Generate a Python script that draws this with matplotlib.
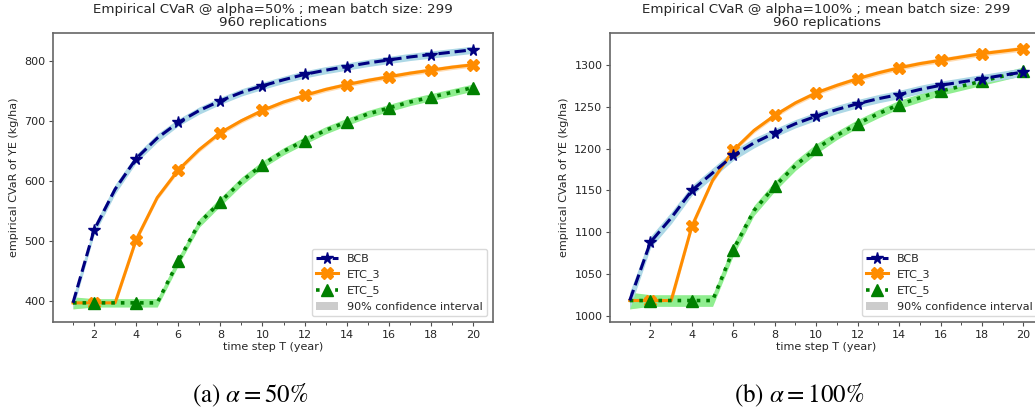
import matplotlib
matplotlib.use("Agg")
import matplotlib.pyplot as plt
from matplotlib.patches import Patch
from matplotlib.lines import Line2D
from matplotlib.ticker import MultipleLocator

plt.rcParams['font.family'] = ['DejaVu Sans']
plt.rcParams['mathtext.fontset'] = 'stix'

T = list(range(1, 21))

# alpha = 50%
bcb_50 = [397, 518, 586, 637, 671, 697, 717, 733, 747, 758, 768, 777, 784, 790, 796, 801, 806, 810, 814, 818]
etc3_50 = [397, 397, 397, 502, 572, 618, 652, 680, 700, 717, 731, 742, 752, 760, 767, 773, 779, 784, 789, 793]
etc5_50 = [397, 397, 397, 397, 397, 466, 530, 565, 599, 627, 649, 667, 684, 698, 711, 721, 731, 739, 747, 755]
bcb_50_hw = [10, 8, 8, 7, 7, 6, 6, 6, 6, 6, 6, 6, 6, 6, 6, 6, 6, 6, 6, 6]
etc3_50_hw = [10, 6, 6, 5, 4, 4, 4, 4, 4, 4, 4, 4, 4, 4, 4, 4, 4, 4, 4, 4]
etc5_50_hw = [10, 7, 7, 7, 7, 7, 7, 7, 7, 6, 6, 6, 6, 6, 6, 6, 6, 6, 6, 6]

# alpha = 100%
bcb_100 = [1018, 1088, 1117, 1150, 1171, 1192, 1207, 1219, 1230, 1239, 1247, 1254, 1260, 1265, 1271, 1276, 1280, 1284, 1288, 1292]
etc3_100 = [1018, 1018, 1018, 1107, 1162, 1198, 1222, 1240, 1255, 1267, 1276, 1284, 1291, 1297, 1302, 1306, 1310, 1314, 1317, 1320]
etc5_100 = [1018, 1018, 1018, 1018, 1018, 1079, 1126, 1155, 1180, 1200, 1216, 1230, 1242, 1253, 1261, 1269, 1275, 1281, 1287, 1293]
bcb_100_hw = [10, 7, 7, 6, 6, 6, 6, 5, 5, 5, 5, 5, 5, 5, 5, 5, 5, 5, 5, 5]
etc3_100_hw = [10, 6, 6, 4, 3, 3, 3, 3, 3, 3, 3, 3, 3, 3, 3, 3, 3, 3, 3, 3]
etc5_100_hw = [10, 7, 7, 7, 7, 7, 6, 6, 6, 6, 5, 5, 5, 5, 5, 5, 5, 5, 5, 5]

titles = ["Empirical CVaR @ alpha=50% ; mean batch size: 299\n960 replications",
          "Empirical CVaR @ alpha=100% ; mean batch size: 299\n960 replications"]
captions = [r"(a) $\alpha = 50\%$", r"(b) $\alpha = 100\%$"]
series_names = ["BCB", "ETC_3", "ETC_5"]
ci_label = "90% confidence interval"

FS = 8.0
txt = '0.15'

fig = plt.figure(figsize=(10.35, 4.13), dpi=100)
axes = [fig.add_axes([0.0512, 0.2203, 0.4251, 0.6998]),
        fig.add_axes([0.5894, 0.2203, 0.4184, 0.6998])]

panels = [
    (bcb_50, etc3_50, etc5_50, bcb_50_hw, etc3_50_hw, etc5_50_hw, 100),
    (bcb_100, etc3_100, etc5_100, bcb_100_hw, etc3_100_hw, etc5_100_hw, 50),
]

def band(ax, y, hw, color, alpha):
    lo = [a - b for a, b in zip(y, hw)]
    hi = [a + b for a, b in zip(y, hw)]
    ax.fill_between(T, lo, hi, color=color, alpha=alpha, linewidth=0, zorder=1)

me = slice(1, None, 2)
for i, (ax, p) in enumerate(zip(axes, panels)):
    b, e3, e5, bh, e3h, e5h, ystep = p
    band(ax, e3, e3h, 'darkorange', 0.3)
    band(ax, e5, e5h, 'lightgreen', 1.0)
    band(ax, b, bh, 'lightblue', 1.0)
    ax.plot(T, e3, color='darkorange', ls='-', lw=2.2, marker='X', ms=8.5,
            markevery=me, zorder=3)
    ax.plot(T, e5, color='green', ls=':', lw=2.6, marker='^', ms=8,
            markevery=me, zorder=4)
    ax.plot(T, b, color='navy', ls='--', lw=2.2, marker='*', ms=8.5,
            markevery=me, zorder=5)

    handles = [
        Line2D([], [], color='navy', ls='--', lw=2.2, marker='*', ms=8.5),
        Line2D([], [], color='darkorange', ls='-', lw=2.2, marker='X', ms=8.5),
        Line2D([], [], color='green', ls=':', lw=2.6, marker='^', ms=8),
        Patch(facecolor='0.8', edgecolor='none'),
    ]
    ax.legend(handles, series_names + [ci_label], loc='lower right',
              fontsize=FS, labelcolor=txt, framealpha=1.0, edgecolor='0.85')

    ax.set_title(titles[i], fontsize=9.6, color=txt, pad=5, linespacing=1.0)
    ax.set_xlabel("time step T (year)", fontsize=FS, color=txt, labelpad=2)
    ax.set_ylabel("empirical CVaR of YE (kg/ha)", fontsize=FS, color=txt, labelpad=4)
    ax.xaxis.set_major_locator(MultipleLocator(2))
    ax.xaxis.set_minor_locator(MultipleLocator(1))
    ax.yaxis.set_major_locator(MultipleLocator(ystep))
    ax.tick_params(axis='both', which='major', labelsize=FS, labelcolor=txt,
                   color='0.3', length=3, width=0.8, pad=2.5)
    ax.tick_params(axis='x', which='minor', color='0.3', length=2, width=0.7)
    for s in ax.spines.values():
        s.set_color('0.4')
        s.set_linewidth(1.2)
    ax.set_xlim(0.05, 20.95)

fig.text(0.242, 0.043, captions[0], ha='center', va='center', fontsize=18,
         family='STIXGeneral', color='black')
fig.text(0.772, 0.043, captions[1], ha='center', va='center', fontsize=18,
         family='STIXGeneral', color='black')

fig.savefig("out.png", dpi=100)
